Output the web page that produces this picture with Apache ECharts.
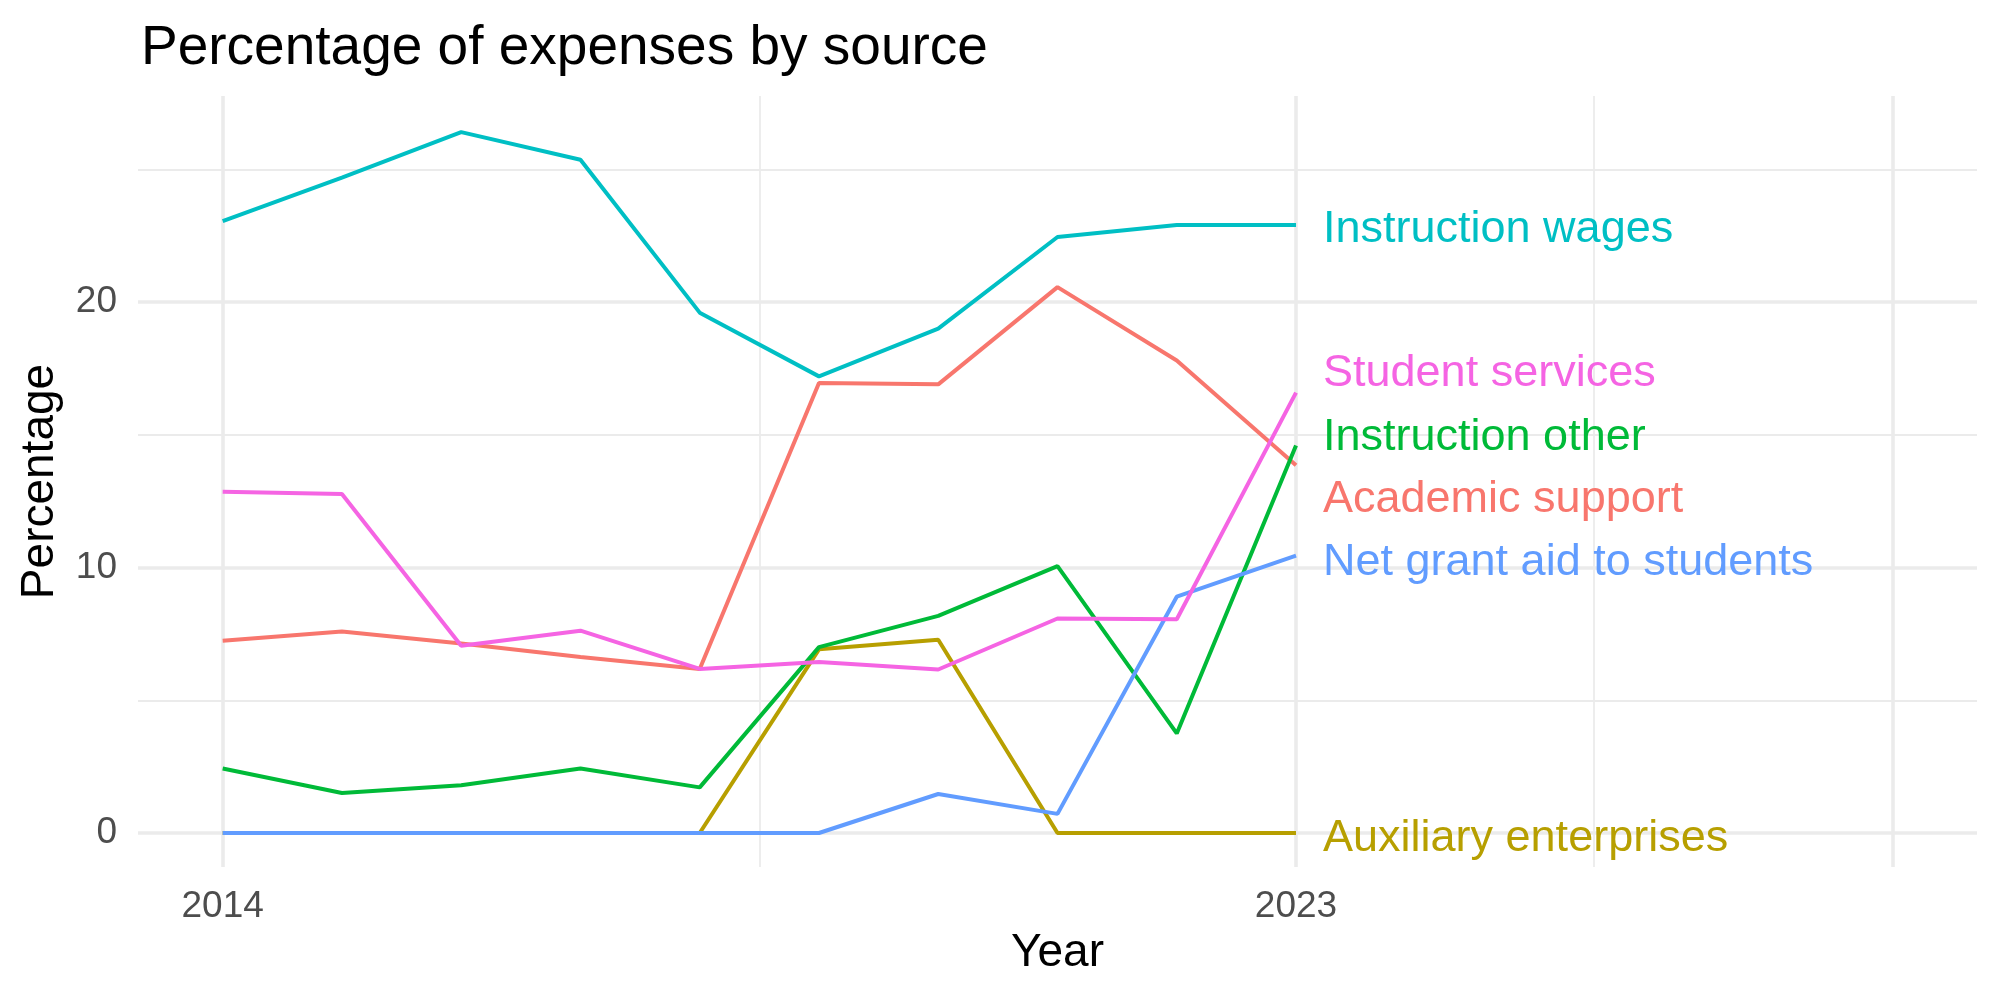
<!DOCTYPE html>
<html>
<head>
<meta charset="utf-8">
<title>Percentage of expenses by source</title>
<script src="https://cdn.jsdelivr.net/npm/echarts@6/dist/echarts.min.js"></script>
<style>
  html, body { margin: 0; padding: 0; background: #fff; }
  #chart { width: 2000px; height: 1000px; }
</style>
</head>
<body>
<div id="chart"></div>
<script>
// years on the x axis
var years = [2014, 2015, 2016, 2017, 2018, 2019, 2020, 2021, 2022, 2023];

// series values (percent)
var academicSupport   = [7.24, 7.59, 7.14, 6.63, 6.18, 16.95, 16.9, 20.56, 17.8, 13.85];
var auxiliary         = [0, 0, 0, 0, 0, 6.92, 7.28, 0, 0, 0];
var instructionOther  = [2.43, 1.51, 1.8, 2.43, 1.72, 7.0, 8.18, 10.05, 3.75, 14.6];
var instructionWages  = [23.05, 24.69, 26.4, 25.36, 19.6, 17.2, 19.0, 22.45, 22.9, 22.9];
var netGrantAid       = [0, 0, 0, 0, 0, 0, 1.47, 0.72, 8.9, 10.45];
var studentServices   = [12.85, 12.77, 7.05, 7.62, 6.18, 6.44, 6.16, 8.08, 8.05, 16.59];

var seriesNames = ['Academic support', 'Auxiliary enterprises', 'Instruction other',
                   'Instruction wages', 'Net grant aid to students', 'Student services'];
var seriesValues = [academicSupport, auxiliary, instructionOther,
                    instructionWages, netGrantAid, studentServices];
var seriesColors = ['#F8766D', '#B79F00', '#00BA38', '#00BFC4', '#619CFF', '#F564E3'];
// where the end labels sit after repelling (percent)
var labelY = [12.55, -0.2, 14.9, 22.72, 10.18, 17.3];

// tick labels
var xTicks = [2014, 2023];
var yTicks = [0, 10, 20];

var FONT = '"Liberation Sans", Arial, sans-serif';

function pairs(vals) {
    var out = [];
    for (var i = 0; i < years.length; i++) out.push([years[i], vals[i]]);
    return out;
}

var series = [];

// grid lines (ggplot style major/minor) as a background helper series
var gridCol = '#EBEBEB';
function gl(axis, v, w) {
    var d = { lineStyle: { color: gridCol, width: w, type: 'solid' } };
    d[axis] = v;
    return d;
}
series.push({
    type: 'line',
    data: [[2014, 0]],
    symbol: 'none',
    lineStyle: { opacity: 0 },
    silent: true,
    z: 1,
    markLine: {
        z: 1,
        silent: true,
        symbol: 'none',
        label: { show: false },
        animation: false,
        data: [
            gl('yAxis', 5, 1.8), gl('yAxis', 15, 1.8), gl('yAxis', 25, 1.8),
            gl('xAxis', 2018.5, 1.8), gl('xAxis', 2025.5, 1.8),
            gl('yAxis', 0, 3.6), gl('yAxis', 10, 3.6), gl('yAxis', 20, 3.6),
            gl('xAxis', 2014, 3.6), gl('xAxis', 2023, 3.6), gl('xAxis', 2028, 3.6)
        ]
    }
});

for (var s = 0; s < seriesNames.length; s++) {
    series.push({
        name: seriesNames[s],
        type: 'line',
        data: pairs(seriesValues[s]),
        symbol: 'none',
        animation: false,
        z: 3 + s,
        lineStyle: { color: seriesColors[s], width: 4 }
    });
    // end label
    series.push({
        name: seriesNames[s] + ' label',
        type: 'scatter',
        data: [[years[years.length - 1], labelY[s]]],
        symbolSize: 0,
        silent: true,
        animation: false,
        z: 10,
        itemStyle: { opacity: 1, color: seriesColors[s] },
        label: {
            show: true,
            position: 'right',
            distance: 27,
            formatter: seriesNames[s],
            color: seriesColors[s],
            opacity: 1,
            fontSize: 45,
            fontFamily: FONT
        }
    });
}

var chart = echarts.init(document.getElementById('chart'));
chart.setOption({
    backgroundColor: '#fff',
    animation: false,
    title: {
        text: 'Percentage of expenses by source',
        left: 136,
        top: 16,
        textStyle: { fontSize: 55, fontWeight: 'normal', color: '#000', fontFamily: FONT }
    },
    grid: { left: 138, right: 23, top: 96, bottom: 133 },
    xAxis: {
        type: 'value',
        min: 2013.29,
        max: 2028.71,
        name: 'Year',
        nameLocation: 'middle',
        nameGap: 60,
        nameTextStyle: { fontSize: 46, color: '#000', fontFamily: FONT },
        axisLine: { show: false },
        axisTick: { show: false },
        splitLine: { show: false },
        axisLabel: {
            customValues: xTicks,
            formatter: function (v) { return String(v); },
            fontSize: 37,
            color: '#4D4D4D',
            margin: 21,
            fontFamily: FONT
        }
    },
    yAxis: {
        type: 'value',
        min: -1.28,
        max: 27.76,
        name: 'Percentage',
        nameLocation: 'middle',
        nameGap: 75,
        nameTextStyle: { fontSize: 46, color: '#000', fontFamily: FONT },
        axisLine: { show: false },
        axisTick: { show: false },
        splitLine: { show: false },
        axisLabel: {
            customValues: yTicks,
            fontSize: 37,
            color: '#4D4D4D',
            margin: 21,
            fontFamily: FONT
        }
    },
    series: series
});
</script>
</body>
</html>
